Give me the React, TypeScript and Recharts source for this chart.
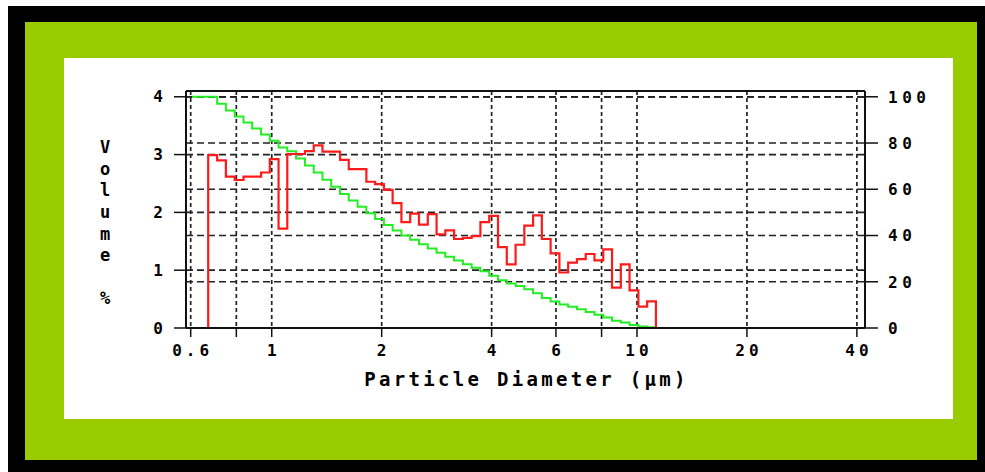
import React from 'react';
import {
  LineChart,
  Line,
  XAxis,
  YAxis,
  CartesianGrid,
  ReferenceLine,
  Label
} from 'recharts';

// bin edges of the size classes (µm)
const binEdges = [
  0.670, 0.709, 0.749, 0.792, 0.837, 0.884, 0.935, 0.988, 1.044, 1.103,
  1.166, 1.233, 1.303, 1.377, 1.455, 1.538, 1.625, 1.718, 1.816, 1.919,
  2.028, 2.143, 2.265, 2.394, 2.530, 2.675, 2.827, 2.987, 3.157, 3.337,
  3.527, 3.727, 3.940, 4.164, 4.401, 4.652, 4.916, 5.195, 5.490, 5.802,
  6.132, 6.480, 6.849, 7.238, 7.649, 8.084, 8.545, 9.030, 9.543, 10.09,
  10.66, 11.27
];

// volume % per bin (red histogram, left axis)
const volumePct = [
  2.99, 2.90, 2.62, 2.56, 2.62, 2.62, 2.69, 2.92, 1.72, 3.01,
  3.01, 3.06, 3.16, 3.05, 3.05, 2.91, 2.75, 2.75, 2.53, 2.49,
  2.39, 2.16, 1.83, 1.98, 1.79, 1.97, 1.62, 1.69, 1.54, 1.56,
  1.59, 1.83, 1.94, 1.40, 1.10, 1.44, 1.77, 1.95, 1.54, 1.29,
  0.96, 1.13, 1.19, 1.28, 1.17, 1.36, 0.70, 1.10, 0.65, 0.37,
  0.46
];

// cumulative % at each bin edge (green staircase, right axis)
const cumulativePct = [
  100, 97.0, 94.1, 91.5, 88.9, 86.3, 83.7, 81.0, 78.1, 76.4,
  73.3, 70.3, 67.3, 64.1, 61.1, 58.0, 55.1, 52.4, 49.6, 47.1,
  44.6, 42.2, 40.0, 38.2, 36.2, 34.4, 32.5, 30.8, 29.2, 27.6,
  26.1, 24.5, 22.6, 20.7, 19.3, 18.2, 16.8, 15.0, 13.0, 11.5,
  10.2, 9.2, 8.1, 6.9, 5.7, 4.5, 3.1, 2.4, 1.3, 0.7,
  0.3, 0
];
const cumulativeStartSize = 0.605;

const xTicks = [0.6, 0.8, 1, 2, 4, 6, 8, 10, 20, 40];
const xTickLabels = ['0.6', '', '1', '2', '4', '6', '', '10', '20', '40'];
const volumeTicks = [0, 1, 2, 3, 4];
const cumulativeTicks = [0, 20, 40, 60, 80, 100];
const yTitleLetters = ['V', 'o', 'l', 'u', 'm', 'e', '', '%'];

const volumeData = [
  { d: binEdges[0], v: 0 },
  ...volumePct.map((v, i) => ({ d: binEdges[i], v })),
  { d: binEdges[binEdges.length - 1], v: 0 }
];

const cumulativeData = [
  { d: cumulativeStartSize, c: 100 },
  ...cumulativePct.map((c, i) => ({ d: binEdges[i], c }))
];

const FONT = '"DejaVu Sans Mono", "Liberation Mono", monospace';

const tickStyle = {
  fontFamily: FONT,
  fontWeight: 'bold' as const,
  fontSize: 16,
  fill: '#000'
};

const XTick = (props: any) => {
  const { x, y, index } = props;
  const label = xTickLabels[index] ?? '';
  return (
    <text
      x={x + 2}
      y={y}
      dy="0.72em"
      textAnchor="middle"
      style={{ ...tickStyle, letterSpacing: 4 }}
    >
      {label}
    </text>
  );
};

const RightTick = (props: any) => {
  const { x, y, payload } = props;
  return (
    <text x={x} y={y} dy="0.36em" textAnchor="start" style={{ ...tickStyle, letterSpacing: 4.5 }}>
      {payload.value}
    </text>
  );
};

const VolumeTitle = () => (
  <g>
    {yTitleLetters.map((ch, i) =>
      ch ? (
        <text
          key={i}
          x={105}
          y={147 + i * 21.6}
          dy="0.36em"
          textAnchor="middle"
          style={{ fontFamily: FONT, fontWeight: 'bold', fontSize: 17, fill: '#000' }}
        >
          {ch}
        </text>
      ) : null
    )}
  </g>
);

const DiameterTitle = (props: any) => {
  const { viewBox } = props;
  return (
    <text
      x={viewBox.x + viewBox.width / 2 + 1}
      y={viewBox.y + 58}
      textAnchor="middle"
      style={{ fontFamily: FONT, fontWeight: 'bold', fontSize: 19, letterSpacing: 3.3, fill: '#000' }}
    >
      Particle Diameter (µm)
    </text>
  );
};

const App: React.FC = () => {
  return (
    <div style={{ position: 'absolute', left: 0, top: 0, width: 985, height: 472, background: '#fff', overflow: 'hidden' }}>
      <div style={{ position: 'absolute', left: 8, top: 6, width: 977, height: 466, background: '#000' }} />
      <div style={{ position: 'absolute', left: 25, top: 22, width: 952, height: 438, background: '#99cc00' }} />
      <div style={{ position: 'absolute', left: 64, top: 58, width: 889, height: 361, background: '#fff' }} />
      <div style={{ position: 'absolute', left: 0, top: 0 }}>
        <LineChart
          width={985}
          height={472}
          margin={{ top: 91, right: 60, bottom: 104, left: 126 }}
        >
          <CartesianGrid
            horizontal={false}
            stroke="#222"
            strokeWidth={1.7}
            strokeDasharray="4 3"
            yAxisId="vol"
          />
          <CartesianGrid
            vertical={false}
            stroke="#222"
            strokeWidth={1.7}
            strokeDasharray="7 4"
            yAxisId="vol"
          />
          <CartesianGrid
            vertical={false}
            stroke="#222"
            strokeWidth={1.7}
            strokeDasharray="7 4"
            yAxisId="cum"
          />
          <XAxis
            dataKey="d"
            type="number"
            scale="log"
            domain={[0.5825, 42.1]}
            ticks={xTicks}
            allowDataOverflow
            height={40}
            tickSize={9}
            tickMargin={7}
            axisLine={{ stroke: '#111', strokeWidth: 2 }}
            tickLine={{ stroke: '#111', strokeWidth: 1.5 }}
            tick={<XTick />}
            interval={0}
          >
            <Label content={<DiameterTitle />} />
          </XAxis>
          <YAxis
            yAxisId="vol"
            domain={[0, 4.1]}
            ticks={volumeTicks}
            width={60}
            tickSize={12}
            tickMargin={11}
            axisLine={{ stroke: '#111', strokeWidth: 2 }}
            tickLine={{ stroke: '#111', strokeWidth: 1.5 }}
            tick={tickStyle}
            interval={0}
          >
            <Label content={<VolumeTitle />} />
          </YAxis>
          <YAxis
            yAxisId="cum"
            orientation="right"
            domain={[0, 102.5]}
            ticks={cumulativeTicks}
            width={60}
            tickSize={13}
            tickMargin={10}
            axisLine={{ stroke: '#111', strokeWidth: 2 }}
            tickLine={{ stroke: '#111', strokeWidth: 1.5 }}
            tick={<RightTick />}
            interval={0}
          />
          <ReferenceLine yAxisId="vol" y={4.1} stroke="#111" strokeWidth={2} />
          <Line
            yAxisId="cum"
            data={cumulativeData}
            dataKey="c"
            type="stepAfter"
            stroke="#22ee22"
            strokeWidth={2}
            dot={false}
            isAnimationActive={false}
          />
          <Line
            yAxisId="vol"
            data={volumeData}
            dataKey="v"
            type="stepAfter"
            stroke="#ff1a1a"
            strokeWidth={2.2}
            dot={false}
            isAnimationActive={false}
          />
        </LineChart>
      </div>
    </div>
  );
};

export default App;
